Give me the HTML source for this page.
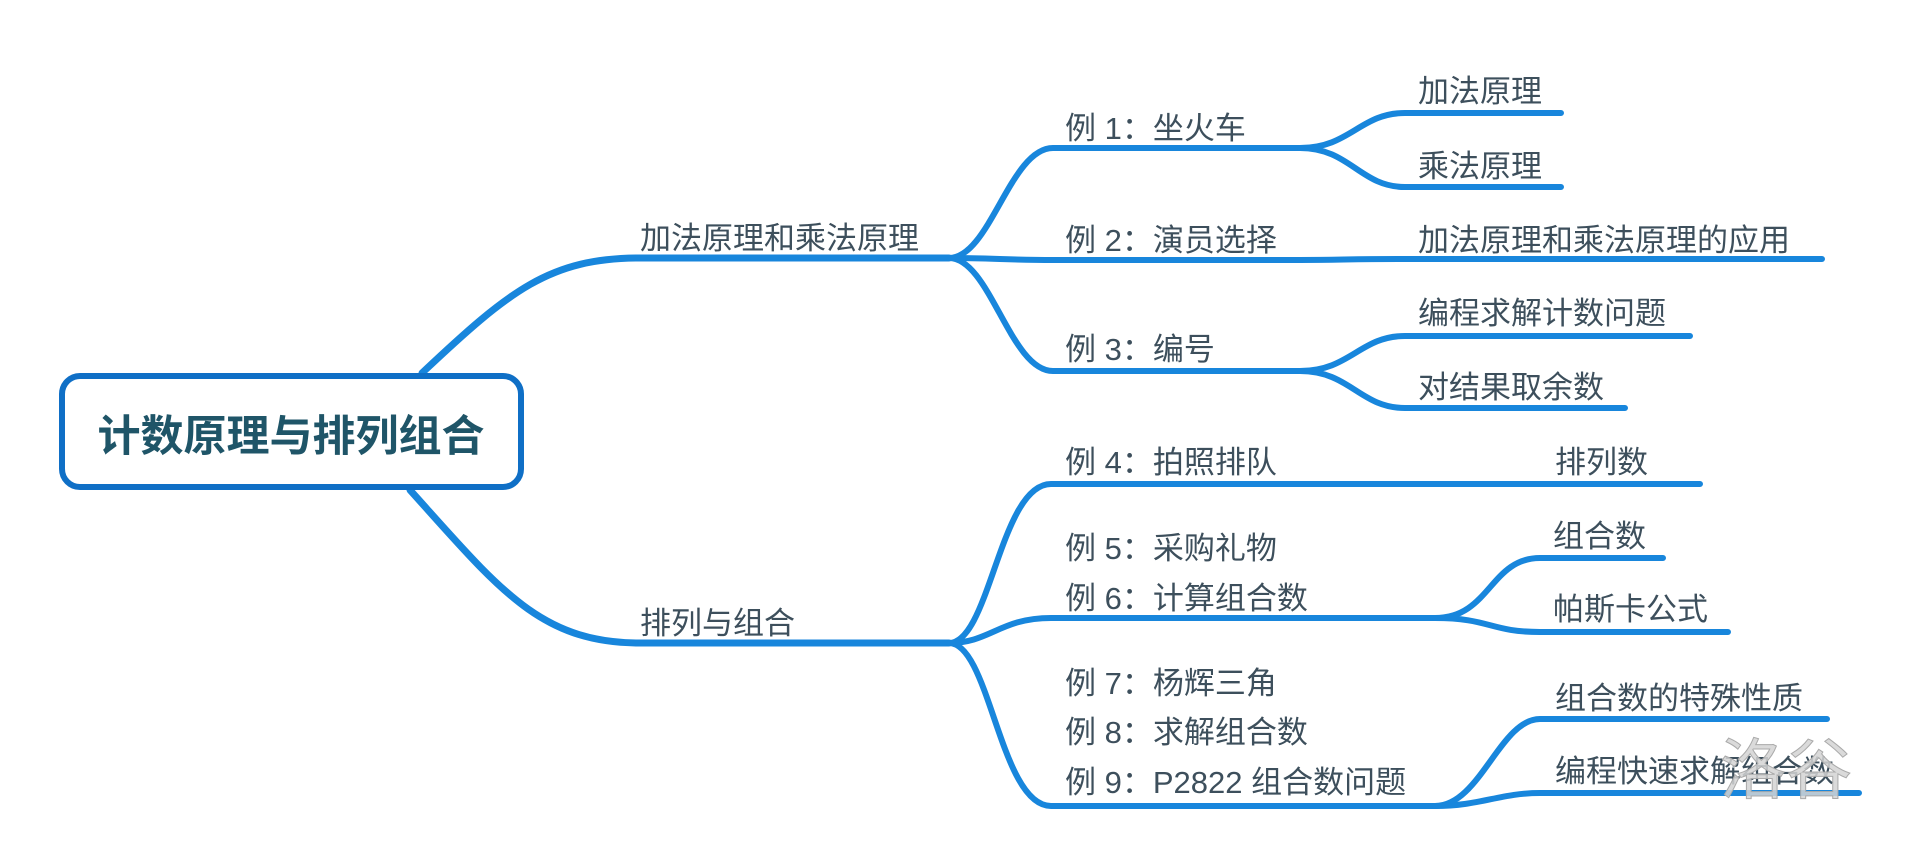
<!DOCTYPE html>
<html><head><meta charset="utf-8"><style>
html,body{margin:0;padding:0;background:#fff;width:1920px;height:866px;overflow:hidden}
svg text{font-family:"Liberation Sans","Noto Sans CJK SC",sans-serif;fill:#3d4f5c}
</style></head><body>
<svg width="1920" height="866" viewBox="0 0 1920 866" xmlns="http://www.w3.org/2000/svg">
<g fill="none" stroke="#1886dc" stroke-linecap="round">
 <path d="M422 373 C510 290 550 258 640 258 L949 258" stroke-width="7"/>
 <path d="M410 490 C500 590 540 643 640 643 L949 643" stroke-width="7"/>
 <g stroke-width="6">
  <path d="M949 258 C990 258 1010 148 1053 148 L1300 148"/>
  <path d="M949 258 C990 258 1010 260 1053 260 L1300 260 C1340 260 1350 259 1400 259 L1822 259"/>
  <path d="M949 258 C990 258 1010 371 1053 371 L1300 371"/>
  <path d="M1300 148 C1350 148 1360 113 1405 113 L1561 113"/>
  <path d="M1300 148 C1350 148 1360 187 1405 187 L1561 187"/>
  <path d="M1300 371 C1350 371 1360 336 1405 336 L1690 336"/>
  <path d="M1300 371 C1350 371 1360 408 1405 408 L1625 408"/>
  <path d="M949 643 C990 643 1000 484 1051 484 L1700 484"/>
  <path d="M949 643 C990 643 1000 618 1051 618 L1435 618"/>
  <path d="M949 643 C990 643 1000 806 1051 806 L1435 806"/>
  <path d="M1435 618 C1490 618 1490 558 1540 558 L1663 558"/>
  <path d="M1435 618 C1490 618 1490 632 1540 632 L1728 632"/>
  <path d="M1435 806 C1480 806 1500 719 1540 719 L1827 719"/>
  <path d="M1435 806 C1480 806 1500 793 1540 793 L1859 793"/>
 </g>
</g>
<rect x="62" y="376" width="459" height="111" rx="18" fill="#fff" stroke="#0f6fc6" stroke-width="6"/>
<text x="291" y="451" text-anchor="middle" font-size="43" font-weight="bold" style="fill:#1f5568">计数原理与排列组合</text>
<g font-size="31">
 <text x="640" y="249">加法原理和乘法原理</text>
 <text x="640" y="634">排列与组合</text>
 <text x="1065" y="139">例 1：坐火车</text>
 <text x="1065" y="251">例 2：演员选择</text>
 <text x="1065" y="360">例 3：编号</text>
 <text x="1418" y="102">加法原理</text>
 <text x="1418" y="177">乘法原理</text>
 <text x="1418" y="251">加法原理和乘法原理的应用</text>
 <text x="1418" y="324">编程求解计数问题</text>
 <text x="1418" y="398">对结果取余数</text>
 <text x="1065" y="473">例 4：拍照排队</text>
 <text x="1065" y="559">例 5：采购礼物</text>
 <text x="1065" y="609">例 6：计算组合数</text>
 <text x="1065" y="694">例 7：杨辉三角</text>
 <text x="1065" y="743">例 8：求解组合数</text>
 <text x="1065" y="793">例 9：P2822 组合数问题</text>
 <text x="1555" y="473">排列数</text>
 <text x="1553" y="547">组合数</text>
 <text x="1553" y="620">帕斯卡公式</text>
 <text x="1555" y="709">组合数的特殊性质</text>
 <text x="1555" y="782">编程快速求解组合数</text>
</g>
<text x="1720" y="793" font-size="66" style="fill:#d4d4d4;fill-opacity:0.85;stroke:#aaa;stroke-width:1">洛谷</text>
</svg>
</body></html>
